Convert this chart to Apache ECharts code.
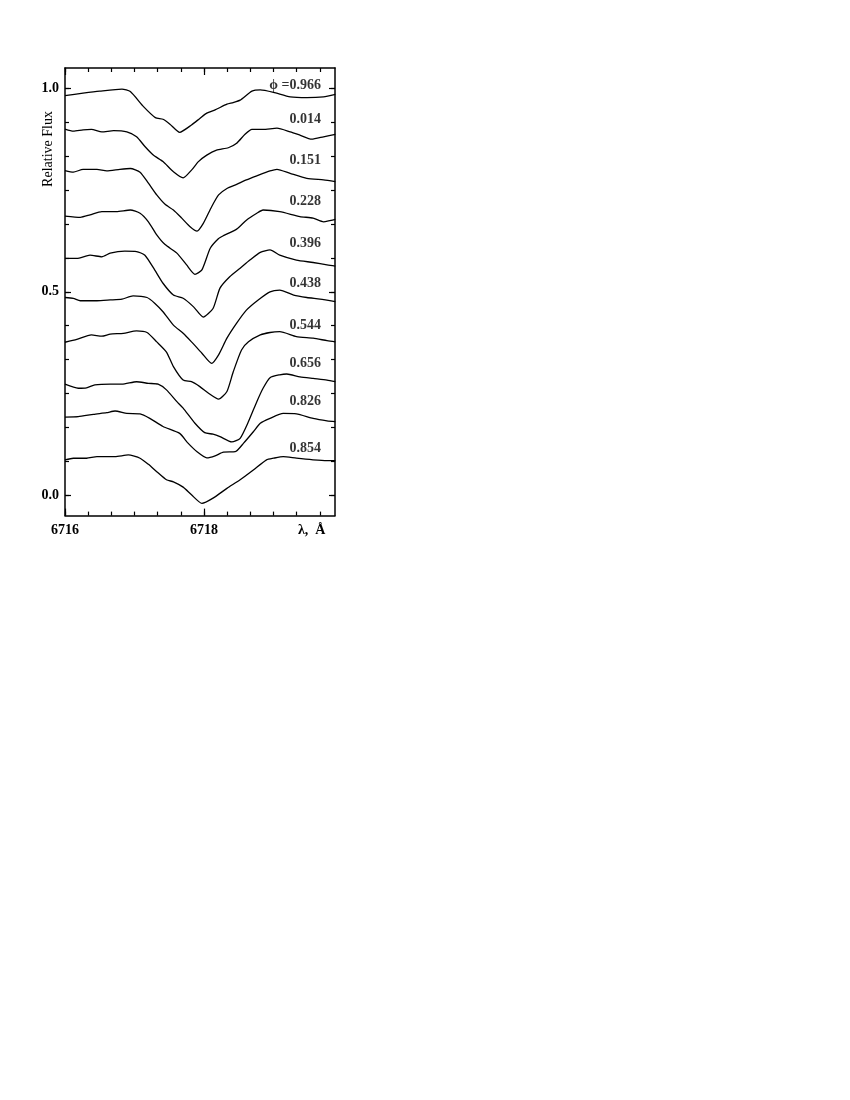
<!DOCTYPE html>
<html>
<head>
<meta charset="utf-8">
<script src="https://cdn.jsdelivr.net/npm/echarts@6/dist/echarts.min.js"></script>
<style>
html,body{margin:0;padding:0;background:#fff;}
#chart{width:850px;height:1100px;}
</style>
</head>
<body>
<div id="chart"></div>
<script>
// Spectra: [wavelength (Å), relative flux]
var s0966 = [[6716.00,0.982],[6716.26,0.988],[6716.50,0.993],[6716.82,0.998],[6716.94,0.992],[6717.13,0.955],[6717.30,0.928],[6717.41,0.924],[6717.51,0.912],[6717.65,0.892],[6717.82,0.910],[6717.94,0.926],[6718.04,0.939],[6718.16,0.947],[6718.33,0.961],[6718.42,0.965],[6718.52,0.971],[6718.69,0.993],[6718.81,0.996],[6719.00,0.990],[6719.24,0.979],[6719.48,0.977],[6719.72,0.979],[6719.89,0.985]];
var s0014 = [[6716.00,0.900],[6716.12,0.895],[6716.26,0.898],[6716.38,0.899],[6716.53,0.893],[6716.70,0.896],[6716.89,0.893],[6717.03,0.881],[6717.15,0.857],[6717.27,0.836],[6717.41,0.820],[6717.56,0.795],[6717.70,0.780],[6717.82,0.799],[6717.92,0.820],[6718.04,0.836],[6718.18,0.848],[6718.35,0.854],[6718.47,0.865],[6718.59,0.887],[6718.69,0.899],[6718.85,0.899],[6719.05,0.902],[6719.24,0.893],[6719.38,0.885],[6719.55,0.875],[6719.72,0.881],[6719.89,0.887]];
var s0151 = [[6716.00,0.798],[6716.12,0.794],[6716.26,0.801],[6716.46,0.801],[6716.60,0.797],[6716.79,0.801],[6716.94,0.803],[6717.08,0.794],[6717.20,0.767],[6717.32,0.738],[6717.44,0.715],[6717.56,0.701],[6717.68,0.681],[6717.80,0.660],[6717.90,0.649],[6717.99,0.668],[6718.11,0.709],[6718.21,0.738],[6718.33,0.754],[6718.47,0.764],[6718.61,0.775],[6718.76,0.785],[6718.95,0.797],[6719.05,0.801],[6719.24,0.791],[6719.48,0.779],[6719.72,0.775],[6719.89,0.771]];
var s0228 = [[6716.00,0.686],[6716.22,0.683],[6716.36,0.689],[6716.53,0.697],[6716.74,0.697],[6716.94,0.701],[6717.08,0.693],[6717.20,0.672],[6717.32,0.640],[6717.44,0.616],[6717.61,0.595],[6717.75,0.566],[6717.87,0.543],[6717.97,0.554],[6718.09,0.607],[6718.21,0.631],[6718.28,0.638],[6718.47,0.654],[6718.61,0.676],[6718.76,0.693],[6718.85,0.701],[6719.09,0.697],[6719.38,0.685],[6719.57,0.681],[6719.72,0.672],[6719.81,0.675],[6719.89,0.678]];
var s0396 = [[6716.00,0.582],[6716.17,0.582],[6716.36,0.590],[6716.53,0.586],[6716.65,0.595],[6716.86,0.600],[6717.03,0.599],[6717.15,0.590],[6717.29,0.554],[6717.41,0.521],[6717.56,0.492],[6717.70,0.484],[6717.85,0.463],[6717.99,0.438],[6718.13,0.459],[6718.23,0.509],[6718.37,0.537],[6718.52,0.558],[6718.66,0.578],[6718.81,0.597],[6718.95,0.603],[6719.09,0.590],[6719.33,0.578],[6719.57,0.572],[6719.77,0.566],[6719.89,0.563]];
var s0438 = [[6716.00,0.486],[6716.12,0.484],[6716.22,0.478],[6716.46,0.478],[6716.65,0.480],[6716.82,0.482],[6716.98,0.490],[6717.18,0.486],[6717.29,0.472],[6717.41,0.451],[6717.56,0.418],[6717.70,0.398],[6717.82,0.377],[6717.97,0.349],[6718.11,0.324],[6718.21,0.345],[6718.33,0.386],[6718.47,0.423],[6718.61,0.455],[6718.78,0.480],[6718.95,0.500],[6719.09,0.504],[6719.29,0.492],[6719.48,0.486],[6719.67,0.482],[6719.89,0.476]];
var s0544 = [[6716.00,0.376],[6716.17,0.383],[6716.38,0.394],[6716.53,0.391],[6716.65,0.396],[6716.84,0.398],[6717.03,0.404],[6717.18,0.400],[6717.32,0.377],[6717.46,0.352],[6717.56,0.316],[6717.70,0.283],[6717.82,0.279],[6717.94,0.267],[6718.07,0.250],[6718.21,0.236],[6718.33,0.255],[6718.42,0.303],[6718.54,0.357],[6718.64,0.377],[6718.81,0.394],[6718.95,0.400],[6719.09,0.402],[6719.33,0.390],[6719.57,0.386],[6719.77,0.380],[6719.89,0.377]];
var s0656 = [[6716.00,0.273],[6716.19,0.263],[6716.31,0.264],[6716.43,0.271],[6716.65,0.273],[6716.82,0.273],[6717.03,0.279],[6717.20,0.275],[6717.34,0.273],[6717.46,0.259],[6717.61,0.230],[6717.70,0.214],[6717.87,0.177],[6718.01,0.154],[6718.13,0.150],[6718.23,0.144],[6718.40,0.131],[6718.52,0.140],[6718.64,0.181],[6718.76,0.230],[6718.85,0.263],[6718.95,0.289],[6719.09,0.296],[6719.19,0.298],[6719.38,0.291],[6719.57,0.287],[6719.77,0.283],[6719.89,0.279]];
var s0826 = [[6716.00,0.192],[6716.19,0.193],[6716.41,0.199],[6716.60,0.203],[6716.72,0.207],[6716.89,0.201],[6717.08,0.200],[6717.22,0.189],[6717.41,0.169],[6717.65,0.152],[6717.77,0.128],[6717.90,0.107],[6718.04,0.092],[6718.16,0.097],[6718.28,0.106],[6718.45,0.107],[6718.57,0.128],[6718.71,0.156],[6718.81,0.177],[6718.95,0.189],[6719.14,0.201],[6719.33,0.200],[6719.57,0.189],[6719.77,0.183],[6719.89,0.181]];
var s0854 = [[6716.00,0.087],[6716.12,0.091],[6716.31,0.091],[6716.46,0.095],[6716.72,0.095],[6716.91,0.099],[6717.08,0.091],[6717.20,0.076],[6717.32,0.058],[6717.46,0.038],[6717.56,0.033],[6717.70,0.020],[6717.82,0.001],[6717.97,-0.020],[6718.13,-0.007],[6718.33,0.017],[6718.52,0.038],[6718.71,0.062],[6718.90,0.087],[6719.00,0.091],[6719.14,0.095],[6719.33,0.091],[6719.57,0.087],[6719.77,0.085],[6719.89,0.085]];

var spectra = [s0966, s0014, s0151, s0228, s0396, s0438, s0544, s0656, s0826, s0854];
var phaseText = ['\u03d5 =0.966','0.014','0.151','0.228','0.396','0.438','0.544','0.656','0.826','0.854'];
var phaseLabelX = 6719.69;
var phaseLabelY = [1.008,0.924,0.824,0.721,0.619,0.521,0.418,0.323,0.230,0.115];

var xMajorTicks = [6716, 6718];
var xLabelValues = [6716, 6718, 6719.55];
var xMinorTicks = [];
for (var i = 0; i <= 11; i++) xMinorTicks.push(6716 + i / 3);
var yMajorTicks = [0, 0.5, 1.0];
var yMinorTicks = [];
for (var k = 0; k <= 12; k++) yMinorTicks.push(k / 12);

var XMIN = 6716, XMAX = 6719.885, YMIN = -0.05, YMAX = 1.05;
var serif = '"Liberation Serif","Times New Roman",serif';

function xAx(pos, showLine, ticks, len, labels) {
  return {
    type: 'value', position: pos, min: XMIN, max: XMAX,
    axisLine: {show: showLine, onZero: false, lineStyle: {color: '#000', width: 1.5}},
    axisTick: {show: true, inside: true, length: len, customValues: ticks, lineStyle: {color: '#000', width: 1.2}},
    axisLabel: labels ? {show: true, customValues: labels, margin: 8, color: '#000',
      fontFamily: serif, fontWeight: 'bold', fontSize: 14,
      formatter: function (v) { return Math.abs(v - 6719.55) < 0.01 ? '\u03bb,  \u00c5' : String(Math.round(v)); }} : {show: false},
    splitLine: {show: false}
  };
}
function yAx(pos, showLine, ticks, len, labels) {
  return {
    type: 'value', position: pos, min: YMIN, max: YMAX,
    axisLine: {show: showLine, onZero: false, lineStyle: {color: '#000', width: 1.5}},
    axisTick: {show: true, inside: true, length: len, customValues: ticks, lineStyle: {color: '#000', width: 1.2}},
    axisLabel: labels ? {show: true, customValues: labels, margin: 6, color: '#000',
      fontFamily: serif, fontWeight: 'bold', fontSize: 14,
      formatter: function (v) { return v.toFixed(1); }} : {show: false},
    splitLine: {show: false}
  };
}

var series = spectra.map(function (d) {
  return {type: 'line', data: d, xAxisIndex: 0, yAxisIndex: 0, symbol: 'none', smooth: 0.2,
    lineStyle: {color: '#000', width: 1.3, join: 'round'}, silent: true};
});
series.push({
  type: 'scatter', xAxisIndex: 0, yAxisIndex: 0, symbolSize: 1, itemStyle: {color: 'rgba(0,0,0,0)'},
  data: phaseLabelY.map(function (y, i) { return [phaseLabelX, y, phaseText[i]]; }),
  label: {show: true, position: 'left', distance: 0, color: '#000', fontFamily: serif,
    fontWeight: 'bold', fontSize: 14, formatter: function (p) { return p.data[2]; }}
});

var chart = echarts.init(document.getElementById('chart'), null, {renderer: 'canvas'});
chart.setOption({
  animation: false,
  backgroundColor: '#fff',
  grid: {left: 65, top: 68, width: 270, height: 447.6, containLabel: false},
  xAxis: [
    xAx('bottom', true, xMajorTicks, 7, xLabelValues),
    xAx('bottom', false, xMinorTicks, 4, null),
    xAx('top', true, xMinorTicks, 4, null),
    xAx('top', false, xMajorTicks, 7, null)
  ],
  yAxis: [
    yAx('left', true, yMajorTicks, 6, yMajorTicks),
    yAx('left', false, yMinorTicks, 4, null),
    yAx('right', true, yMinorTicks, 4, null),
    yAx('right', false, yMajorTicks, 6, null)
  ],
  graphic: [{
    type: 'text', x: 48, y: 149, rotation: Math.PI / 2,
    style: {text: 'Relative Flux', font: '14px ' + serif, fill: '#000', textAlign: 'center', textVerticalAlign: 'middle'}
  }],
  series: series
});
</script>
</body>
</html>
